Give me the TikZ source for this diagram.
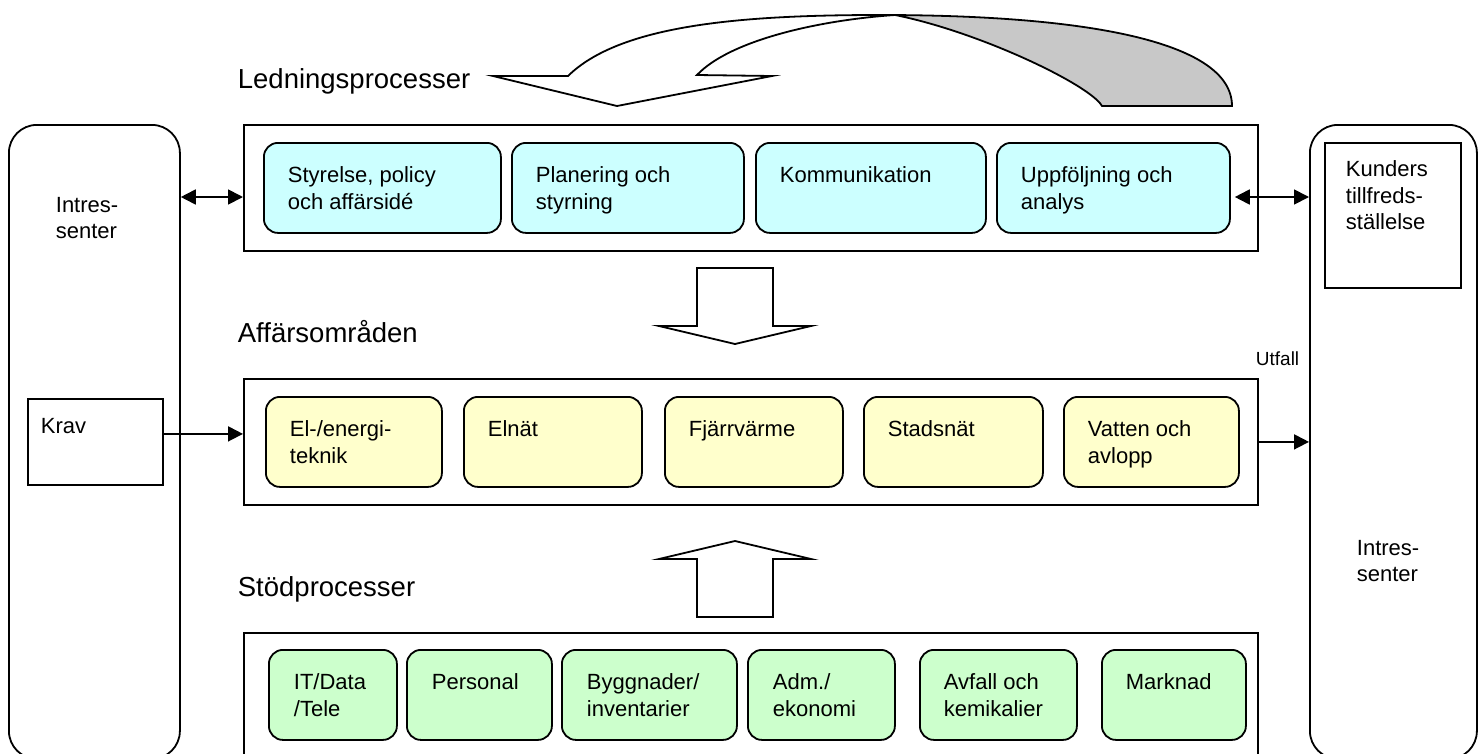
\documentclass[tikz,border=0pt]{standalone}
\usepackage{fontspec}
\setmainfont{Liberation Sans}
\usetikzlibrary{arrows.meta}

\definecolor{ledblue}{HTML}{CCFFFF}
\definecolor{affyellow}{HTML}{FFFFCC}
\definecolor{stodgreen}{HTML}{CCFFCC}
\definecolor{twistgray}{HTML}{C8C8C8}

\begin{document}
\begin{tikzpicture}[x=1pt,y=-1pt,line width=1.8pt,line join=miter,
  side/.style={draw,rounded corners=28pt,anchor=north west,inner sep=0,minimum height=634pt},
  frame/.style={draw,anchor=north west,inner sep=0,minimum width=1014pt,minimum height=126pt},
  sub/.style={draw,rounded corners=14pt,anchor=north west,inner sep=0,minimum height=90pt},
  led/.style={sub,fill=ledblue},
  aff/.style={sub,fill=affyellow},
  stod/.style={sub,fill=stodgreen},
  txt/.style={anchor=north west,inner sep=0,align=left,font=\fontsize{22}{26.5}\selectfont},
  head/.style={anchor=base west,inner sep=0,font=\fontsize{27.5}{33}\selectfont},
  arr/.style={-{Triangle[length=15pt,width=15pt]}},
  darr/.style={{Triangle[length=15pt,width=15pt]}-{Triangle[length=15pt,width=15pt]}},
  blockarrow/.style={draw,fill=white}]
\useasboundingbox (0,0) rectangle (1478,753);

% sides
\node[side,minimum width=171pt] (lft) at (8,124) {};
\node[side,minimum width=167pt] (rgt) at (1309,124) {};
\node[draw,anchor=north west,inner sep=0,minimum width=135pt,minimum height=86pt] (krav) at (27,398) {};
\node[draw,anchor=north west,inner sep=0,minimum width=136pt,minimum height=145pt] (kund) at (1324,142) {};
\node[txt] (lfttxt) at (55,196) {Intres-\\senter};
\node[txt] (rgttxt) at (1356,539) {Intres-\\senter};
\node[txt] (kravtxt) at (40,417) {Krav};
\node[txt] (kundtxt) at (1345,160) {Kunders\\tillfreds-\\ställelse};
\node[anchor=base west,inner sep=0,font=\fontsize{19}{23}\selectfont] (utfall) at (1255,365) {Utfall};

% headings
\node[head] (ledhead) at (237,88) {Ledningsprocesser};
\node[head] (affhead) at (237,342) {Affärsområden};
\node[head] (stodhead) at (237,596) {Stödprocesser};

% frames
\node[frame] (ledframe) at (243,124) {};
\node[frame] (affframe) at (243,378) {};
\node[frame,minimum height=146pt] (stodframe) at (243,632) {};

% ledningsprocesser
\node[led,minimum width=237pt] (styr) at (263,142) {};
\node[led,minimum width=232pt] (plan) at (511,142) {};
\node[led,minimum width=230pt] (komm) at (755,142) {};
\node[led,minimum width=233pt] (uppf) at (996,142) {};
\node[txt] at ([xshift=24pt,yshift=-24pt]styr.north west) {Styrelse, policy\\och affärsidé};
\node[txt] at ([xshift=24pt,yshift=-24pt]plan.north west) {Planering och\\styrning};
\node[txt] at ([xshift=24pt,yshift=-24pt]komm.north west) {Kommunikation};
\node[txt] at ([xshift=24pt,yshift=-24pt]uppf.north west) {Uppföljning och\\analys};

% affärsområden
\node[aff,minimum width=176pt] (elen) at (265,396) {};
\node[aff,minimum width=178pt] (elnat) at (463,396) {};
\node[aff,minimum width=178pt] (fjarr) at (664,396) {};
\node[aff,minimum width=179pt] (stad) at (863,396) {};
\node[aff,minimum width=175pt] (vatten) at (1063,396) {};
\node[txt] at ([xshift=24pt,yshift=-24pt]elen.north west) {El-/energi-\\teknik};
\node[txt] at ([xshift=24pt,yshift=-24pt]elnat.north west) {Elnät};
\node[txt] at ([xshift=24pt,yshift=-24pt]fjarr.north west) {Fjärrvärme};
\node[txt] at ([xshift=24pt,yshift=-24pt]stad.north west) {Stadsnät};
\node[txt] at ([xshift=24pt,yshift=-24pt]vatten.north west) {Vatten och\\avlopp};

% stödprocesser
\node[stod,minimum width=128pt] (itdata) at (268,649) {};
\node[stod,minimum width=145pt] (pers) at (406,649) {};
\node[stod,minimum width=175pt] (bygg) at (561,649) {};
\node[stod,minimum width=147pt] (adm) at (747,649) {};
\node[stod,minimum width=157pt] (avfall) at (919,649) {};
\node[stod,minimum width=144pt] (mark) at (1101,649) {};
\node[txt] at ([xshift=25pt,yshift=-24pt]itdata.north west) {IT/Data\\/Tele};
\node[txt] at ([xshift=25pt,yshift=-24pt]pers.north west) {Personal};
\node[txt] at ([xshift=25pt,yshift=-24pt]bygg.north west) {Byggnader/\\inventarier};
\node[txt] at ([xshift=25pt,yshift=-24pt]adm.north west) {Adm./\\ekonomi};
\node[txt] at ([xshift=24pt,yshift=-24pt]avfall.north west) {Avfall och\\kemikalier};
\node[txt] at ([xshift=24pt,yshift=-24pt]mark.north west) {Marknad};

% connectors
\draw[darr] (lft.east |- 0,197) -- (ledframe.west |- 0,197);
\draw[darr] ([xshift=4pt]uppf.east |- 0,197) -- (rgt.west |- 0,197);
\draw[arr] ([yshift=8pt]krav.east) -- ([yshift=8pt]affframe.west);
\draw[arr] (affframe.east) -- (affframe.east -| rgt.west);

% block arrows
\draw[blockarrow] (697,268) -- (773,268) -- (773,326) -- (811,326) -- (735,344) -- (659,326) -- (697,326) -- cycle;
\draw[blockarrow] (697,617) -- (773,617) -- (773,559) -- (811,559) -- (735,541) -- (659,559) -- (697,559) -- cycle;

% curved arrow
\draw[fill=twistgray] (895,15) .. controls (980,32) and (1090,85) .. (1102,106) -- (1232,106)
  .. controls (1232,40) and (1080,15) .. (880,15) -- cycle;
\draw[blockarrow] (493,76) -- (568,76) .. controls (620,25) and (740,15) .. (880,15) -- (895,15)
  .. controls (820,20) and (730,40) .. (697,75) -- (772,76) -- (617,106) -- cycle;
\end{tikzpicture}
\end{document}
